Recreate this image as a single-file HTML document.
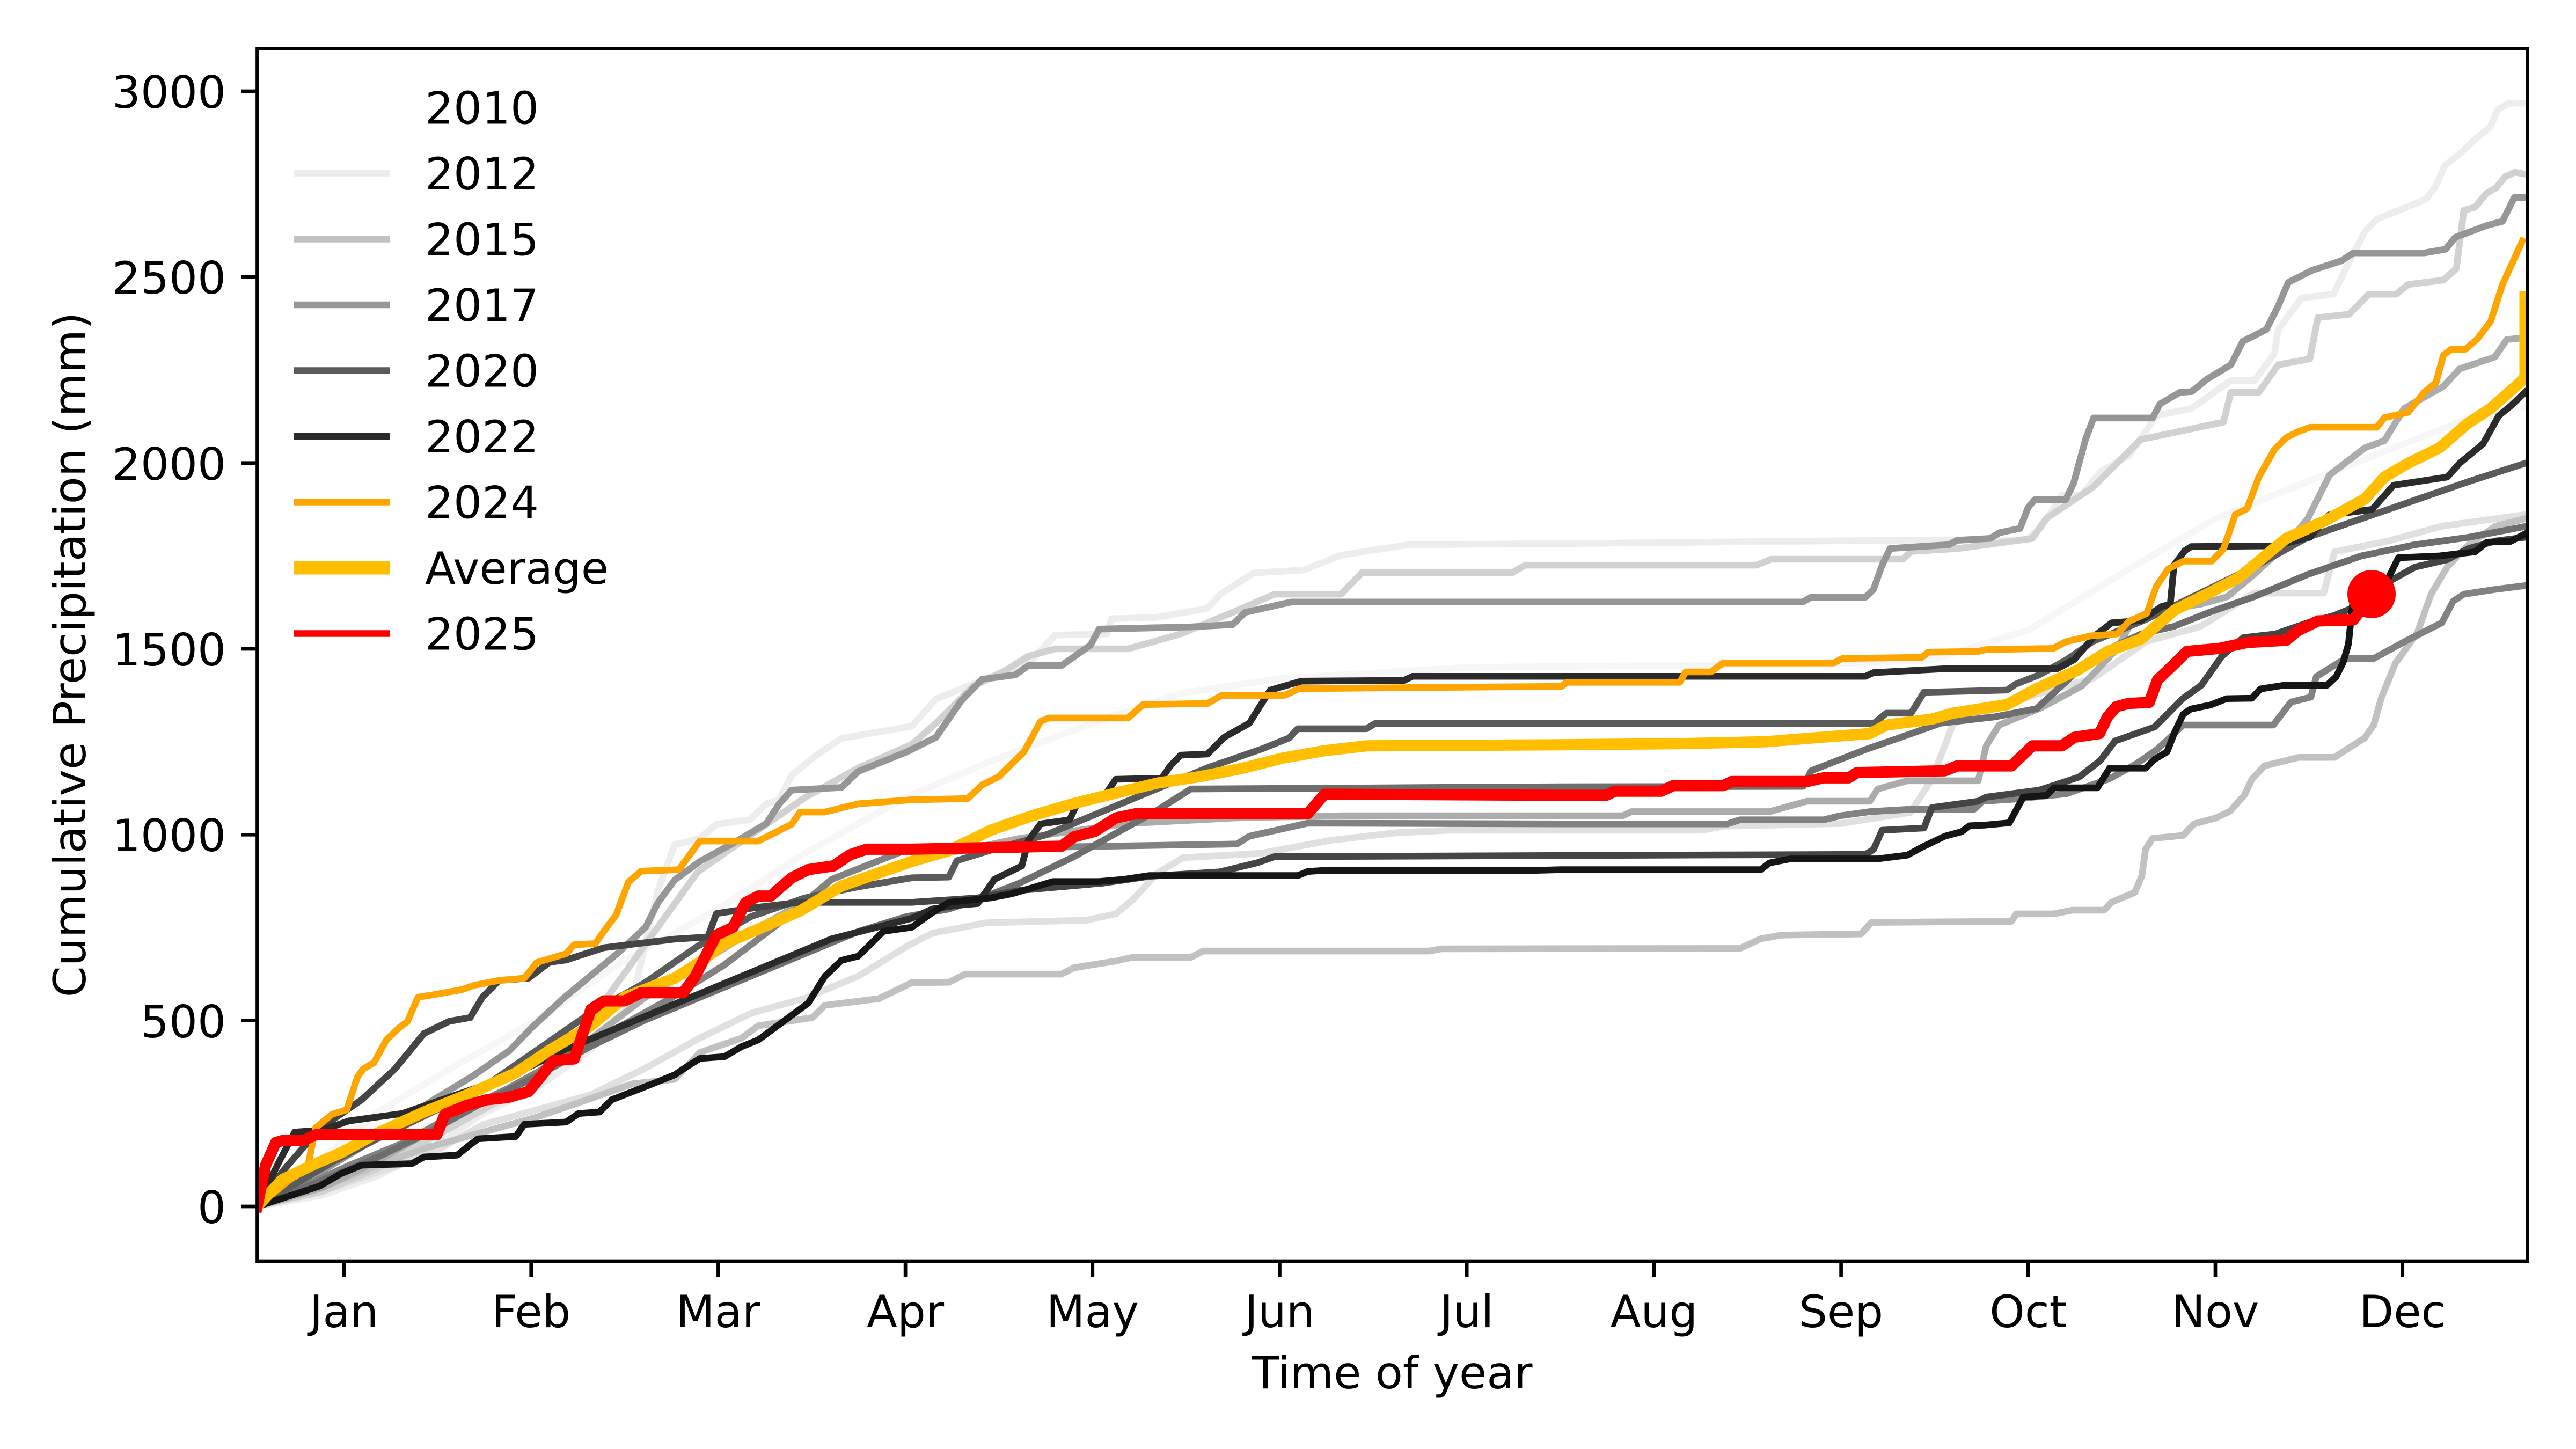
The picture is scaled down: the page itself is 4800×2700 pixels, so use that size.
<!DOCTYPE html>
<html><head><meta charset="utf-8"><style>
html,body{margin:0;padding:0;background:#fff;}
svg{display:block;}
text{font-family:"DejaVu Sans","Liberation Sans",sans-serif;font-size:83.33px;fill:#000;}
</style></head><body>
<svg width="4800" height="2700" viewBox="0 0 4800 2700" xmlns="http://www.w3.org/2000/svg">
<rect x="0" y="0" width="4800" height="2700" fill="#fff"/>
<defs><clipPath id="c"><rect x="479" y="90.5" width="4230" height="2259.5"/></clipPath></defs>
<g clip-path="url(#c)">
<g transform="translate(0,2248) scale(1,-0.69267)" fill="none" stroke-linejoin="round" stroke-linecap="square">
<polyline vector-effect="non-scaling-stroke" stroke="#f6f6f6" stroke-width="12.5" points="479,0 560,80 700,250 850,380 1000,500 1150,650 1338,800 1500,950 1687,1100 1850,1200 2036,1300 2200,1380 2384,1420 2733,1450 3430,1460 3600,1470 3779,1550 3950,1700 4128,1850 4300,1950 4477,2050 4600,2120 4705,2150"/>
<polyline vector-effect="non-scaling-stroke" stroke="#ededed" stroke-width="12.5" points="479,0 600,30 700,80 800,150 900,250 1000,320 1100,420 1179,560 1226,850 1257,973 1304,990 1335,1028 1397,1040 1428,1083 1452,1094 1475,1160 1522,1215 1568,1259 1699,1292 1744,1365 1869,1438 1916,1460 1966,1537 2063,1540 2071,1581 2157,1585 2250,1609 2274,1647 2336,1704 2429,1712 2499,1752 2624,1780 2910,1783 3600,1793 3776,1793 3805,1829 3842,1914 3879,1914 3915,1978 3967,2020 4018,2127 4084,2147 4157,2222 4201,2222 4238,2294 4245,2359 4289,2444 4348,2454 4377,2540 4407,2624 4429,2656 4479,2685 4521,2710 4538,2743 4556,2801 4584,2832 4612,2871 4640,2903 4654,2950 4675,2968 4705,2968"/>
<polyline vector-effect="non-scaling-stroke" stroke="#e0e0e0" stroke-width="12.5" points="479,0 600,40 700,90 800,140 900,220 1000,260 1100,300 1200,370 1300,450 1400,520 1500,560 1600,620 1690,700 1737,735 1838,763 2025,770 2079,787 2110,824 2157,897 2204,938 2350,950 2480,985 2600,1005 2700,1012 3172,1012 3211,1023 3430,1030 3560,1060 3600,1150 3640,1300 3700,1330 3800,1380 3900,1420 4000,1520 4100,1560 4200,1650 4330,1650 4350,1761 4450,1790 4550,1830 4705,1861"/>
<polyline vector-effect="non-scaling-stroke" stroke="#d1d1d1" stroke-width="12.5" points="479,0 600,40 700,100 800,180 900,260 1000,340 1100,500 1200,700 1300,900 1400,1000 1500,1100 1600,1180 1699,1243 1744,1300 1814,1400 1869,1438 1916,1480 1966,1500 2102,1500 2200,1540 2300,1600 2375,1647 2499,1647 2538,1705 2818,1705 2842,1725 3273,1725 3300,1741 3546,1741 3561,1762 3650,1770 3787,1797 3813,1851 3901,1936 3989,2063 4143,2110 4157,2190 4209,2190 4245,2264 4304,2280 4319,2391 4377,2400 4414,2454 4465,2454 4487,2480 4553,2492 4577,2523 4591,2680 4612,2688 4633,2725 4651,2740 4668,2770 4686,2782 4705,2777"/>
<polyline vector-effect="non-scaling-stroke" stroke="#c1c1c1" stroke-width="12.5" points="479,0 600,50 700,110 800,160 900,200 1000,240 1100,290 1179,330 1257,342 1304,414 1382,453 1413,486 1514,508 1537,541 1638,559 1699,602 1768,603 1799,625 1978,625 2001,642 2079,660 2110,670 2219,670 2242,687 2663,687 2686,693 3242,694 3281,720 3320,730 3468,733 3487,764 3748,767 3757,787 3827,787 3861,797 3921,797 3934,818 3978,845 3991,889 3998,961 4011,990 4068,998 4088,1029 4129,1045 4155,1063 4182,1106 4196,1149 4219,1185 4283,1208 4350,1208 4370,1227 4406,1260 4423,1295 4437,1367 4463,1460 4504,1542 4530,1647 4560,1720 4600,1780 4650,1830 4705,1850"/>
<polyline vector-effect="non-scaling-stroke" stroke="#acacac" stroke-width="12.5" points="479,0 600,50 700,120 800,200 900,280 1000,360 1100,450 1200,560 1300,650 1400,740 1500,820 1600,880 1690,930 1800,960 1900,990 2000,1010 2100,1030 2300,1045 2500,1051 3024,1051 3040,1062 3297,1062 3367,1090 3484,1090 3499,1123 3554,1145 3686,1145 3701,1239 3725,1295 3803,1341 3879,1400 3945,1500 3967,1560 4011,1600 4100,1620 4150,1640 4200,1700 4260,1780 4300,1850 4341,1968 4407,2041 4443,2060 4480,2147 4553,2206 4583,2253 4649,2285 4671,2332 4705,2337"/>
<polyline vector-effect="non-scaling-stroke" stroke="#969696" stroke-width="12.5" points="479,0 560,60 640,130 720,200 800,280 880,350 950,420 990,480 1050,560 1100,620 1150,680 1203,751 1226,817 1257,878 1304,928 1366,977 1428,1030 1452,1083 1475,1120 1568,1127 1599,1170 1690,1223 1744,1262 1791,1360 1830,1418 1892,1430 1916,1455 1978,1455 2032,1510 2048,1553 2219,1559 2297,1565 2320,1598 2406,1626 3359,1626 3375,1639 3476,1639 3491,1660 3507,1725 3522,1770 3631,1780 3647,1792 3709,1797 3725,1812 3764,1824 3779,1880 3791,1901 3849,1901 3864,1946 3886,2063 3901,2121 4011,2121 4025,2159 4062,2190 4084,2192 4113,2226 4157,2264 4179,2327 4223,2359 4245,2422 4264,2486 4308,2518 4363,2544 4385,2565 4517,2565 4557,2575 4575,2607 4634,2639 4663,2650 4685,2714 4705,2714"/>
<polyline vector-effect="non-scaling-stroke" stroke="#828282" stroke-width="12.5" points="479,0 560,50 650,110 750,170 850,250 950,320 1050,400 1150,480 1250,560 1350,650 1450,760 1550,880 1690,960 2305,975 2328,996 2437,1031 2910,1029 3219,1029 3242,1040 3398,1040 3429,1051 3484,1062 3554,1068 3678,1068 3694,1090 3748,1095 3850,1110 3930,1150 3980,1190 4020,1230 4050,1270 4068,1295 4236,1295 4269,1357 4306,1370 4316,1425 4370,1474 4423,1474 4484,1522 4550,1570 4571,1628 4591,1647 4650,1660 4705,1670"/>
<polyline vector-effect="non-scaling-stroke" stroke="#6e6e6e" stroke-width="12.5" points="479,0 600,70 700,130 800,200 900,280 1000,350 1100,430 1200,500 1300,560 1400,620 1500,680 1600,740 1690,780 1768,800 1830,830 1900,870 2000,940 2087,1010 2150,1060 2219,1123 2910,1129 3360,1130 3375,1172 3476,1229 3538,1260 3616,1300 3717,1317 3795,1339 3849,1411 3873,1444 3930,1500 3990,1540 4050,1560 4120,1600 4200,1640 4300,1700 4400,1750 4500,1780 4600,1800 4705,1829"/>
<polyline vector-effect="non-scaling-stroke" stroke="#5b5b5b" stroke-width="12.5" points="479,0 550,60 620,120 700,180 800,250 900,320 1000,420 1100,520 1200,600 1300,700 1400,780 1500,830 1600,860 1699,884 1768,886 1783,930 1850,960 1950,1000 2050,1060 2150,1120 2250,1180 2350,1230 2402,1260 2418,1285 2546,1285 2562,1299 3491,1299 3515,1327 3561,1327 3585,1383 3740,1389 3756,1405 3800,1430 3850,1470 3900,1520 3950,1550 4000,1580 4100,1650 4200,1720 4300,1800 4400,1850 4500,1900 4600,1950 4705,1999"/>
<polyline vector-effect="non-scaling-stroke" stroke="#454545" stroke-width="12.5" points="479,0 530,100 596,210 674,287 736,370 790,465 837,498 876,508 899,563 930,608 985,614 1024,657 1055,663 1125,696 1257,719 1319,725 1335,788 1413,805 1491,818 1699,818 1822,830 1900,850 2056,870 2141,888 2273,900 2344,925 2375,941 3476,947 3491,960 3507,1012 3585,1018 3600,1073 3686,1090 3701,1101 3800,1120 3874,1155 3914,1200 3941,1252 4015,1290 4068,1367 4102,1402 4140,1480 4180,1530 4240,1540 4300,1570 4350,1590 4400,1620 4450,1680 4500,1720 4560,1740 4600,1770 4650,1790 4705,1800"/>
<polyline vector-effect="non-scaling-stroke" stroke="#2b2b2b" stroke-width="12.5" points="479,0 520,120 549,200 600,205 650,230 750,250 850,300 950,350 1050,420 1150,480 1250,540 1350,600 1450,660 1550,720 1699,775 1737,800 1783,810 1822,815 1853,880 1904,916 1916,984 1939,1029 1993,1040 2009,1090 2056,1100 2079,1149 2165,1152 2180,1184 2200,1214 2250,1217 2281,1262 2328,1300 2347,1344 2367,1389 2425,1413 2616,1415 2632,1426 3476,1426 3491,1436 3631,1447 3834,1447 3865,1471 3904,1536 3935,1570 3989,1576 4028,1614 4044,1620 4051,1725 4071,1764 4083,1775 4238,1777 4304,1800 4340,1860 4420,1875 4460,1940 4560,1962 4583,1999 4627,2052 4656,2127 4678,2153 4705,2190"/>
<polyline vector-effect="non-scaling-stroke" stroke="#151515" stroke-width="12.5" points="479,0 526,22 596,55 635,88 674,111 767,115 790,133 852,138 876,166 891,182 961,188 977,221 1055,227 1078,250 1117,254 1140,287 1179,309 1218,331 1257,354 1280,376 1304,398 1350,403 1382,430 1413,448 1444,481 1475,514 1506,547 1537,619 1568,662 1599,673 1623,707 1646,740 1699,751 1737,790 1768,818 1846,830 1885,841 1923,857 1962,874 2048,874 2095,880 2141,890 2418,890 2437,901 2468,904 2857,904 2910,906 3281,906 3297,924 3336,935 3499,935 3554,945 3585,969 3624,996 3655,1008 3670,1024 3700,1026 3744,1032 3770,1101 3814,1106 3827,1126 3908,1126 3931,1179 3998,1179 4015,1203 4038,1223 4052,1275 4068,1324 4082,1338 4119,1349 4149,1366 4196,1367 4212,1392 4256,1402 4336,1402 4353,1425 4366,1463 4376,1513 4385,1639 4451,1692 4469,1745 4546,1750 4612,1761 4634,1787 4678,1789 4705,1809"/>
<polyline vector-effect="non-scaling-stroke" stroke="#ffa500" stroke-width="12.5" points="479,0 574,111 588,211 619,248 646,260 666,348 677,370 697,387 720,448 744,481 759,497 779,563 806,569 860,583 884,595 930,608 977,614 1000,656 1055,680 1070,704 1109,707 1125,740 1148,784 1171,873 1195,902 1265,906 1304,983 1413,983 1475,1028 1491,1061 1537,1061 1599,1083 1699,1094 1803,1097 1830,1134 1861,1156 1908,1223 1939,1305 1955,1314 2102,1314 2130,1350 2250,1353 2277,1375 2394,1375 2421,1393 2910,1399 2919,1410 3130,1410 3141,1438 3188,1438 3211,1462 3417,1462 3433,1474 3581,1477 3593,1491 3686,1493 3701,1498 3826,1501 3849,1519 3896,1535 3945,1540 3967,1574 4000,1595 4018,1668 4040,1715 4069,1736 4121,1736 4143,1768 4165,1861 4187,1877 4209,1962 4238,2036 4260,2068 4282,2084 4304,2096 4429,2096 4443,2122 4487,2136 4517,2190 4539,2216 4553,2290 4568,2306 4594,2306 4616,2333 4641,2381 4663,2480 4700,2597"/>
<polyline vector-effect="non-scaling-stroke" stroke="#ffbf00" stroke-width="21" points="479,0 526,72 588,115 635,144 697,193 790,254 868,299 961,359 1024,420 1101,486 1164,563 1257,614 1304,657 1350,707 1413,746 1491,795 1568,862 1699,928 1768,957 1846,1012 1923,1051 2001,1084 2079,1112 2157,1139 2235,1156 2313,1178 2390,1206 2468,1226 2546,1239 2910,1242 3133,1245 3289,1250 3367,1259 3484,1272 3515,1295 3600,1311 3639,1327 3740,1350 3795,1393 3873,1444 3927,1493 3989,1526 4052,1604 4120,1653 4172,1692 4260,1797 4333,1845 4407,1904 4443,1962 4487,1999 4546,2041 4597,2105 4641,2147 4700,2222 4705,2232 4705,2447"/>
<polyline vector-effect="non-scaling-stroke" stroke="#ff0000" stroke-width="21" points="479,0 495,111 514,172 526,177 565,177 588,193 814,193 829,248 868,271 907,287 946,293 985,309 1016,364 1031,392 1070,397 1101,530 1125,553 1164,553 1195,575 1273,575 1296,620 1319,686 1335,730 1366,751 1389,817 1413,835 1436,835 1475,884 1506,906 1553,916 1584,946 1615,961 1699,961 1978,969 2001,994 2040,1009 2079,1045 2118,1057 2437,1057 2468,1109 2910,1106 2993,1106 3009,1117 3095,1117 3118,1132 3211,1132 3227,1143 3367,1143 3398,1153 3445,1153 3460,1167 3624,1172 3647,1185 3748,1185 3787,1239 3842,1239 3865,1262 3912,1272 3927,1317 3943,1344 3966,1353 4005,1356 4020,1416 4052,1460 4075,1493 4135,1501 4187,1517 4260,1523 4282,1549 4319,1575 4385,1578 4407,1618 4419,1647"/>
</g>
<circle cx="4419" cy="1107" r="45" fill="#ff0000"/>
</g>
<!-- axes spines -->
<rect x="479.5" y="90.5" width="4230" height="2259.5" fill="none" stroke="#000" stroke-width="6.67"/>
<!-- y ticks -->
<g stroke="#000" stroke-width="6.67">
<line x1="450" y1="2248" x2="479" y2="2248"/>
<line x1="450" y1="1901.7" x2="479" y2="1901.7"/>
<line x1="450" y1="1555.3" x2="479" y2="1555.3"/>
<line x1="450" y1="1209" x2="479" y2="1209"/>
<line x1="450" y1="862.7" x2="479" y2="862.7"/>
<line x1="450" y1="516.3" x2="479" y2="516.3"/>
<line x1="450" y1="170" x2="479" y2="170"/>
</g>
<g text-anchor="end">
<text x="421" y="2279">0</text>
<text x="421" y="1933">500</text>
<text x="421" y="1586">1000</text>
<text x="421" y="1240">1500</text>
<text x="421" y="894">2000</text>
<text x="421" y="547">2500</text>
<text x="421" y="201">3000</text>
</g>
<!-- x ticks -->
<g stroke="#000" stroke-width="6.67">
<line x1="641" y1="2350" x2="641" y2="2379"/>
<line x1="989.7" y1="2350" x2="989.7" y2="2379"/>
<line x1="1338.4" y1="2350" x2="1338.4" y2="2379"/>
<line x1="1687.1" y1="2350" x2="1687.1" y2="2379"/>
<line x1="2035.8" y1="2350" x2="2035.8" y2="2379"/>
<line x1="2384.5" y1="2350" x2="2384.5" y2="2379"/>
<line x1="2733.2" y1="2350" x2="2733.2" y2="2379"/>
<line x1="3081.9" y1="2350" x2="3081.9" y2="2379"/>
<line x1="3430.6" y1="2350" x2="3430.6" y2="2379"/>
<line x1="3779.3" y1="2350" x2="3779.3" y2="2379"/>
<line x1="4128" y1="2350" x2="4128" y2="2379"/>
<line x1="4476.7" y1="2350" x2="4476.7" y2="2379"/>
</g>
<g text-anchor="middle">
<text x="641" y="2473">Jan</text>
<text x="989.7" y="2473">Feb</text>
<text x="1338.4" y="2473">Mar</text>
<text x="1687.1" y="2473">Apr</text>
<text x="2035.8" y="2473">May</text>
<text x="2384.5" y="2473">Jun</text>
<text x="2733.2" y="2473">Jul</text>
<text x="3081.9" y="2473">Aug</text>
<text x="3430.6" y="2473">Sep</text>
<text x="3779.3" y="2473">Oct</text>
<text x="4128" y="2473">Nov</text>
<text x="4476.7" y="2473">Dec</text>
<text x="2594" y="2587">Time of year</text>
<text transform="translate(159,1220) rotate(-90)">Cumulative Precipitation (mm)</text>
</g>
<!-- legend -->
<g stroke-linecap="butt">
<line x1="548" y1="200.5" x2="726" y2="200.5" stroke="#ffffff" stroke-width="12.5"/>
<line x1="548" y1="323" x2="726" y2="323" stroke="#ededed" stroke-width="12.5"/>
<line x1="548" y1="445.5" x2="726" y2="445.5" stroke="#c1c1c1" stroke-width="12.5"/>
<line x1="548" y1="568" x2="726" y2="568" stroke="#969696" stroke-width="12.5"/>
<line x1="548" y1="690.5" x2="726" y2="690.5" stroke="#5b5b5b" stroke-width="12.5"/>
<line x1="548" y1="813" x2="726" y2="813" stroke="#2b2b2b" stroke-width="12.5"/>
<line x1="548" y1="935.5" x2="726" y2="935.5" stroke="#ffa500" stroke-width="12.5"/>
<line x1="548" y1="1058" x2="726" y2="1058" stroke="#ffbf00" stroke-width="25"/>
<line x1="548" y1="1180.5" x2="726" y2="1180.5" stroke="#ff0000" stroke-width="12.5"/>
</g>
<g>
<text x="792" y="230.5">2010</text>
<text x="792" y="353">2012</text>
<text x="792" y="475.5">2015</text>
<text x="792" y="598">2017</text>
<text x="792" y="720.5">2020</text>
<text x="792" y="843">2022</text>
<text x="792" y="965.5">2024</text>
<text x="792" y="1088">Average</text>
<text x="792" y="1210.5">2025</text>
</g>
</svg>
</body></html>
